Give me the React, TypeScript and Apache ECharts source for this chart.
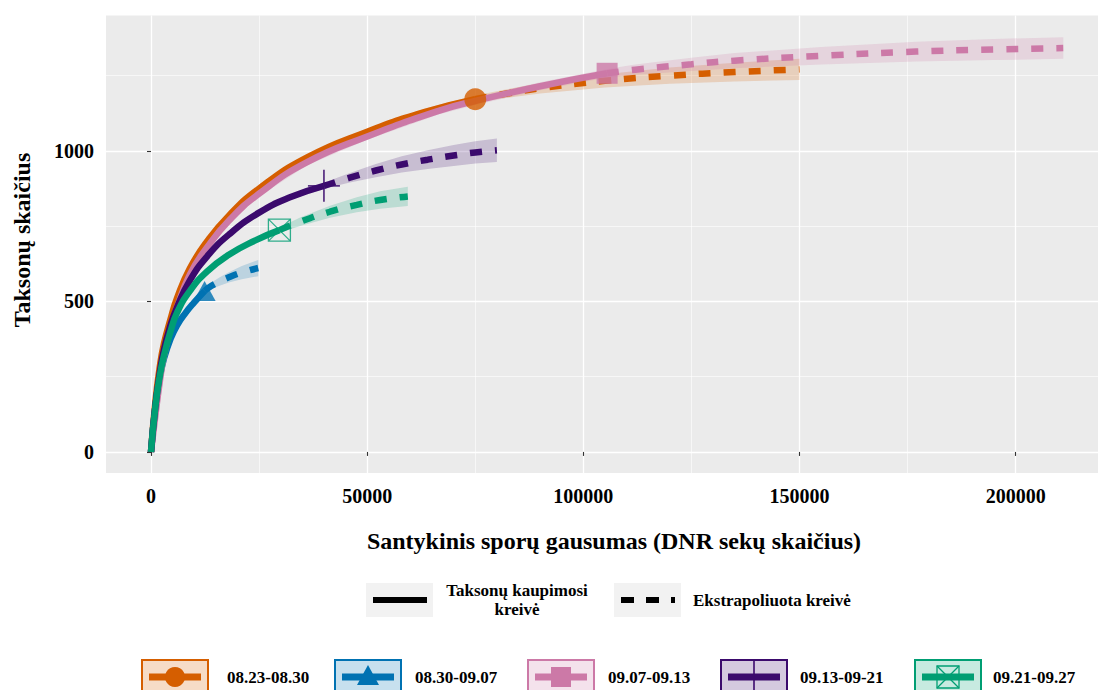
import React, { useEffect, useRef } from "react";
import * as echarts from "echarts";

// ---------- data ----------
const groupNames = ["08.23-08.30", "08.30-09.07", "09.07-09.13", "09.13-09-21", "09.21-09.27"];
const groupColors = ["#D55E00", "#0072B2", "#CC79A7", "#3B0A6D", "#009E73"];
const lineTypeNames = ["Taksonų kaupimosi\nkreivė", "Ekstrapoliuota kreivė"];

const xTicks = [0, 50000, 100000, 150000, 200000];
const xMinorTicks = [25000, 75000, 125000, 175000];
const yTicks = [0, 500, 1000];
const yMinorTicks = [250, 750, 1250];

// [x, y, CI half-width]
const g1Interp = [[0, 0, 0], [1000, 165, 2], [2000, 280, 3], [3000, 360, 4], [4500, 440, 4], [6000, 510, 5], [9000, 610, 6], [13000, 700, 6], [18000, 785, 7], [25000, 875, 8], [36000, 978, 9], [50000, 1064, 10], [63000, 1128, 11], [75000, 1172, 12]];
const g1Extrap = [[75000, 1172, 12], [82000, 1190, 14], [90000, 1208, 17], [105000, 1233, 22], [120000, 1250, 27], [135000, 1262, 31], [150000, 1271, 35]];

const g2Interp = [[0, 0, 0], [1000, 150, 2], [2000, 245, 3], [3000, 310, 4], [4500, 375, 5], [6000, 420, 5], [8000, 462, 6], [10000, 497, 7], [12400, 535, 8]];
const g2Extrap = [[12400, 535, 8], [14000, 552, 11], [16000, 567, 14], [18000, 580, 17], [21000, 596, 22], [24800, 611, 27]];

const g3Interp = [[0, 0, 0], [1000, 120, 2], [2000, 230, 3], [3000, 320, 4], [4500, 410, 5], [6000, 480, 5], [9000, 590, 6], [13000, 680, 7], [18000, 768, 8], [25000, 858, 9], [36000, 962, 10], [50000, 1048, 11], [66700, 1134, 12], [75000, 1166, 13], [90000, 1215, 13], [105500, 1258, 14]];
const g3Extrap = [[105500, 1258, 14], [112000, 1270, 17], [125000, 1288, 22], [135000, 1300, 25], [155000, 1316, 29], [177000, 1330, 33], [195000, 1337, 35], [211000, 1342, 36]];

const g4Interp = [[0, 0, 0], [1000, 150, 2], [2000, 260, 3], [3000, 340, 4], [4500, 420, 4], [6000, 480, 5], [9000, 570, 6], [13000, 650, 7], [18000, 722, 8], [25000, 795, 9], [32000, 845, 9], [40000, 884, 10]];
const g4Extrap = [[40000, 884, 10], [46000, 911, 16], [52000, 935, 22], [58000, 955, 27], [64000, 971, 31], [70000, 985, 35], [75000, 995, 37], [80000, 1002, 39]];

const g5Interp = [[0, 0, 0], [1000, 150, 2], [2000, 250, 3], [3000, 320, 4], [4500, 400, 4], [6000, 462, 5], [9000, 535, 6], [13000, 600, 7], [18000, 655, 7], [24000, 702, 8], [29700, 737, 9]];
const g5Extrap = [[29700, 737, 9], [34500, 765, 14], [41400, 798, 20], [47600, 821, 25], [53000, 837, 29], [59400, 849, 32]];

const observed = [[75000, 1172], [12400, 535], [105500, 1258], [40000, 884], [29700, 737]];

const interpList = [g1Interp, g2Interp, g3Interp, g4Interp, g5Interp];
const extrapList = [g1Extrap, g2Extrap, g3Extrap, g4Extrap, g5Extrap];

// ---------- layout / style ----------
const W = 1098;
const H = 690;
const X_MIN = -10408;
const X_MAX = 219040;
const Y_MIN = -70;
const Y_MAX = 1450;
const FONT = "Liberation Serif";

function rgba(hex: string, a: number) {
  const n = parseInt(hex.slice(1), 16);
  return `rgba(${(n >> 16) & 255},${(n >> 8) & 255},${n & 255},${a})`;
}

const plusPath = "path://M16,0V32M0,16H32";
const boxXPath = "path://M0,0H100V100H0ZM0,0L100,100M100,0L0,100";

const symbolDefs: any[] = [
  { symbol: "circle", symbolSize: 22, itemStyle: { color: groupColors[0] } },
  { symbol: "triangle", symbolSize: [22, 20], itemStyle: { color: groupColors[1] } },
  { symbol: "rect", symbolSize: 21, itemStyle: { color: groupColors[2] } },
  { symbol: plusPath, symbolSize: 32, itemStyle: { color: "rgba(0,0,0,0)", borderColor: groupColors[3], borderWidth: 1.8 } },
  { symbol: boxXPath, symbolSize: 22, itemStyle: { color: "rgba(0,0,0,0)", borderColor: groupColors[4], borderWidth: 1.3 } },
];

function bandSeries(points: number[][], color: string) {
  return {
    type: "custom",
    coordinateSystem: "cartesian2d",
    silent: true,
    z: 1,
    clip: true,
    data: [[points[0][0], points[0][1]]],
    renderItem: (params: any, api: any) => {
      if (params.dataIndex !== 0) return null;
      const upper = points.map((p) => api.coord([p[0], p[1] + p[2]]));
      const lower = points
        .slice()
        .reverse()
        .map((p) => api.coord([p[0], p[1] - p[2]]));
      return {
        type: "polygon",
        shape: { points: upper.concat(lower) },
        style: { fill: rgba(color, 0.2), stroke: "none" },
      };
    },
  };
}

function buildOption() {
  const series: any[] = [];
  groupNames.forEach((_, i) => {
    const pts = interpList[i].concat(extrapList[i].slice(1));
    series.push(bandSeries(pts, groupColors[i]));
  });
  groupNames.forEach((name, i) => {
    series.push({
      type: "line",
      name: name + " interp",
      data: interpList[i].map((p) => [p[0], p[1]]),
      smooth: 0.5,
      symbol: "none",
      z: 2,
      silent: true,
      lineStyle: { color: groupColors[i], width: 6.5, cap: "butt" },
    });
    series.push({
      type: "line",
      name: name + " extrap",
      data: extrapList[i].map((p) => [p[0], p[1]]),
      smooth: 0.5,
      symbol: "none",
      z: 2,
      silent: true,
      lineStyle: { color: groupColors[i], width: 6.5, type: [12, 13], cap: "butt" },
    });
  });
  groupNames.forEach((name, i) => {
    series.push({
      type: "scatter",
      name: name + " observed",
      data: [observed[i]],
      z: 3,
      silent: true,
      ...symbolDefs[i],
    });
  });

  // ---------- legend (graphic) ----------
  const g: any[] = [];
  const keyX = [366, 614];
  const keyY = 583;
  keyX.forEach((kx, j) => {
    g.push({ type: "rect", shape: { x: kx, y: keyY, width: 67, height: 34 }, style: { fill: "#F2F2F2" } });
    g.push({
      type: "line",
      shape: { x1: kx + 7, y1: keyY + 17, x2: kx + 61, y2: keyY + 17 },
      style: { stroke: "#000", lineWidth: 6, lineDash: j === 1 ? [13, 12] : null },
    });
  });
  g.push({
    type: "text",
    x: 517,
    y: 600,
    style: { text: lineTypeNames[0], font: `bold 17px "${FONT}"`, fill: "#000", textAlign: "center", textVerticalAlign: "middle", lineHeight: 19 },
  });
  g.push({
    type: "text",
    x: 693,
    y: 600,
    style: { text: lineTypeNames[1], font: `bold 17px "${FONT}"`, fill: "#000", textAlign: "left", textVerticalAlign: "middle" },
  });

  const boxX = [142, 335, 528, 721, 915];
  const textX = [227, 415, 608, 800, 993];
  const by = 660;
  const cy = 677;
  boxX.forEach((bx, i) => {
    const c = groupColors[i];
    const cx = bx + 33;
    g.push({ type: "rect", shape: { x: bx, y: by, width: 66, height: 34 }, style: { fill: rgba(c, 0.22), stroke: c, lineWidth: 2 } });
    g.push({ type: "line", shape: { x1: bx + 7, y1: cy, x2: bx + 59, y2: cy }, style: { stroke: c, lineWidth: 7 } });
    if (i === 0) g.push({ type: "circle", shape: { cx, cy, r: 10 }, style: { fill: c } });
    if (i === 1) g.push({ type: "polygon", shape: { points: [[cx, cy - 12], [cx + 11, cy + 8], [cx - 11, cy + 8]] }, style: { fill: c } });
    if (i === 2) g.push({ type: "rect", shape: { x: cx - 10, y: cy - 10, width: 20, height: 20 }, style: { fill: c } });
    if (i === 3) g.push({ type: "line", shape: { x1: cx, y1: by, x2: cx, y2: by + 34 }, style: { stroke: c, lineWidth: 1.6 } });
    if (i === 4) {
      g.push({ type: "rect", shape: { x: cx - 11, y: cy - 11, width: 22, height: 22 }, style: { fill: "none", stroke: c, lineWidth: 1.3 } });
      g.push({ type: "line", shape: { x1: cx - 11, y1: cy - 11, x2: cx + 11, y2: cy + 11 }, style: { stroke: c, lineWidth: 1.3 } });
      g.push({ type: "line", shape: { x1: cx + 11, y1: cy - 11, x2: cx - 11, y2: cy + 11 }, style: { stroke: c, lineWidth: 1.3 } });
    }
    g.push({
      type: "text",
      x: textX[i],
      y: cy,
      style: { text: groupNames[i], font: `bold 17px "${FONT}"`, fill: "#000", textAlign: "left", textVerticalAlign: "middle" },
    });
  });

  // axis titles
  g.push({
    type: "text",
    x: 614,
    y: 541,
    style: { text: "Santykinis sporų gausumas (DNR sekų skaičius)", font: `bold 24px "${FONT}"`, fill: "#000", textAlign: "center", textVerticalAlign: "middle" },
  });
  g.push({
    type: "text",
    x: 22,
    y: 240,
    rotation: Math.PI / 2,
    style: { text: "Taksonų skaičius", font: `bold 24px "${FONT}"`, fill: "#000", textAlign: "center", textVerticalAlign: "middle" },
  });

  const labelStyle = { fontFamily: FONT, fontWeight: "bold", fontSize: 20, color: "#000" };

  return {
    animation: false,
    backgroundColor: "#FFFFFF",
    grid: { left: 106, top: 15.5, width: W - 106, height: 457.5, show: true, backgroundColor: "#EBEBEB", borderWidth: 0 },
    xAxis: [
      {
        type: "value",
        min: X_MIN,
        max: X_MAX,
        splitNumber: 5,
        axisLine: { show: false },
        axisTick: { show: true, length: 4, customValues: xTicks, lineStyle: { color: "#333", width: 1.1 } },
        axisLabel: { ...labelStyle, margin: 13, customValues: xTicks, formatter: (v: number) => String(v) },
        splitLine: { show: true, lineStyle: { color: "#FFFFFF", width: 1.3 } },
      },
      {
        type: "value",
        min: X_MIN,
        max: X_MAX,
        position: "bottom",
        axisLine: { show: false },
        axisTick: { show: false, customValues: xMinorTicks },
        axisLabel: { show: false, customValues: xMinorTicks },
        splitLine: { show: true, lineStyle: { color: "#FFFFFF", width: 0.6 } },
      },
    ],
    yAxis: [
      {
        type: "value",
        min: Y_MIN,
        max: Y_MAX,
        splitNumber: 3,
        axisLine: { show: false },
        axisTick: { show: true, length: 4, customValues: yTicks, lineStyle: { color: "#333", width: 1.1 } },
        axisLabel: { ...labelStyle, margin: 12, customValues: yTicks, formatter: (v: number) => String(v) },
        splitLine: { show: true, lineStyle: { color: "#FFFFFF", width: 1.3 } },
      },
      {
        type: "value",
        min: Y_MIN,
        max: Y_MAX,
        position: "left",
        axisLine: { show: false },
        axisTick: { show: false, customValues: yMinorTicks },
        axisLabel: { show: false, customValues: yMinorTicks },
        splitLine: { show: true, lineStyle: { color: "#FFFFFF", width: 0.6 } },
      },
    ],
    graphic: g,
    series,
  };
}

export default function App() {
  const ref = useRef<HTMLDivElement>(null);
  useEffect(() => {
    const chart = echarts.init(ref.current!, null, { renderer: "svg" });
    chart.setOption(buildOption() as any);
    return () => chart.dispose();
  }, []);
  return <div ref={ref} style={{ position: "absolute", left: 0, top: 0, width: W, height: H }} />;
}
